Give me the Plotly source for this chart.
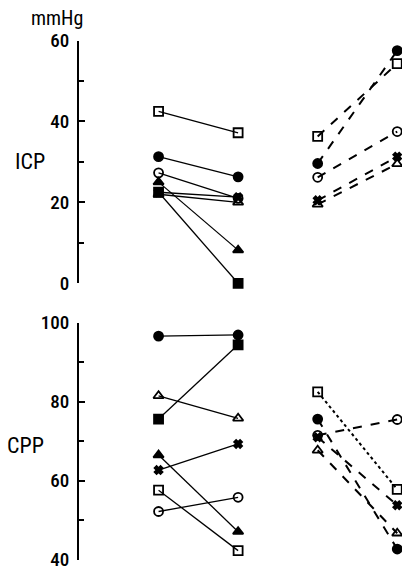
import plotly.graph_objects as go

# ---- data ----
time_mid = [1, 2]      # before / after, group 1 (solid lines)
time_right = [3, 4]    # before / after, group 2 (dashed lines)

mid_markers = ["square-open", "circle", "circle-open", "triangle-up", "x", "triangle-up-open", "square"]
icp_mid_pre = [42.5, 31.3, 27.3, 25.0, 22.5, 22.0, 22.5]
icp_mid_post = [37.2, 26.3, 21.0, 8.2, 21.3, 20.0, 0.0]
cpp_mid_pre = [57.6, 96.6, 52.2, 66.5, 62.7, 81.5, 75.6]
cpp_mid_post = [42.3, 96.9, 55.8, 47.1, 69.3, 75.8, 94.4]

right_markers = ["square-open", "circle", "circle-open", "x", "triangle-up-open"]
icp_r_pre = [36.3, 29.6, 26.2, 20.5, 19.5]
icp_r_post = [54.3, 57.5, 37.5, 31.3, 29.5]
cpp_r_pre = [82.5, 75.6, 71.5, 71.0, 67.7]
cpp_r_post = [57.8, 42.7, 75.5, 53.8, 46.7]
cpp_r_dash = ["dot", "dash", "dash", "dash", "dash"]

icp_ticks = [0, 20, 40, 60]
cpp_ticks = [40, 60, 80, 100]

FONT = "Roboto Condensed, DejaVu Sans Condensed, sans-serif"

fig = go.Figure()

def add_pair(xs, y0, y1, sym, dash, width, xa, ya):
    fig.add_trace(go.Scatter(
        x=xs, y=[y0, y1], mode="lines+markers",
        line=dict(color="black", width=width, dash=dash),
        marker=dict(symbol=sym, size=9 if "x" not in sym else 7, color="black",
                    line=dict(color="black", width=1.8)),
        xaxis=xa, yaxis=ya, showlegend=False, cliponaxis=False, hoverinfo="skip"))

for i, s in enumerate(mid_markers):
    add_pair(time_mid, icp_mid_pre[i], icp_mid_post[i], s, "solid", 1.3, "x", "y")
    add_pair(time_mid, cpp_mid_pre[i], cpp_mid_post[i], s, "solid", 1.3, "x2", "y2")
for i, s in enumerate(right_markers):
    add_pair(time_right, icp_r_pre[i], icp_r_post[i], s, "dash", 2, "x", "y")
    add_pair(time_right, cpp_r_pre[i], cpp_r_post[i], s, cpp_r_dash[i], 2, "x2", "y2")

xdom = [79 / 402, 1.0]
xcommon = dict(domain=xdom, range=[0, 4.06], visible=False, fixedrange=True, automargin=False)
ycommon = dict(showline=True, linecolor="black", linewidth=2, ticks="inside", ticklen=6,
               tickwidth=1.5, tickcolor="black", showgrid=False, zeroline=False, automargin=False,
               tickfont=dict(family=FONT, size=19, color="black", weight=500), ticklabelstandoff=4,
               minor=dict(ticks="inside", ticklen=5, tickwidth=1.5, tickcolor="black", dtick=10, showgrid=False))

fig.update_layout(
    template="none",
    width=402, height=574, margin=dict(l=0, r=0, t=0, b=0, autoexpand=False),
    paper_bgcolor="white", plot_bgcolor="white",
    xaxis=dict(**xcommon, anchor="y"),
    xaxis2=dict(**xcommon, anchor="y2"),
    yaxis=dict(**ycommon, domain=[1 - 283.3 / 574, 1 - 40.5 / 574], range=[0, 60],
               tickvals=icp_ticks, anchor="x"),
    yaxis2=dict(**ycommon, domain=[1 - 559.7 / 574, 1 - 322.7 / 574], range=[40, 100],
                tickvals=cpp_ticks, anchor="x2"),
    annotations=[
        dict(text="mmHg", x=57 / 402, y=1 - 18 / 574, xref="paper", yref="paper", xanchor="center",
             yanchor="middle", showarrow=False, font=dict(family=FONT, size=20, color="black")),
        dict(text="ICP", x=30 / 402, y=1 - 161 / 574, xref="paper", yref="paper", xanchor="center",
             yanchor="middle", showarrow=False, font=dict(family=FONT, size=22, color="black")),
        dict(text="CPP", x=25 / 402, y=1 - 446 / 574, xref="paper", yref="paper", xanchor="center",
             yanchor="middle", showarrow=False, font=dict(family=FONT, size=22, color="black")),
    ],
)

fig.write_html("out.html", config={"displayModeBar": False},
               post_script="document.body.style.margin='0';document.body.style.overflow='hidden';")
